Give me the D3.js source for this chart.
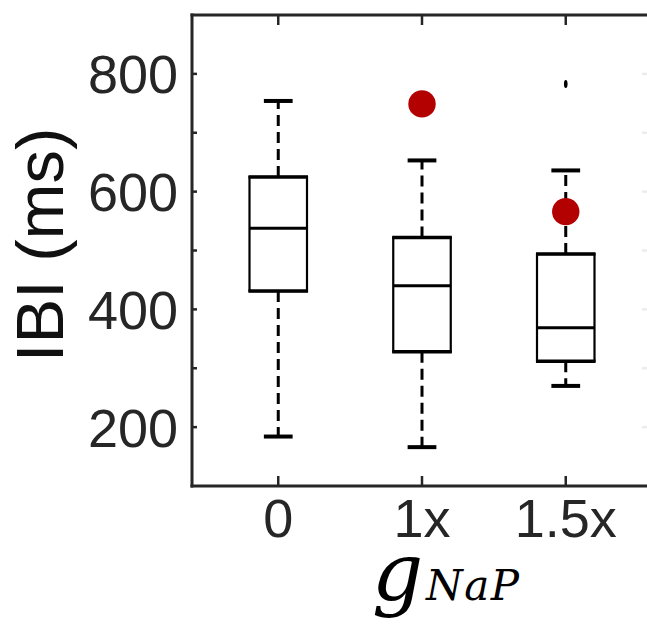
<!DOCTYPE html>
<html>
<head>
<meta charset="utf-8">
<script src="https://cdn.jsdelivr.net/npm/d3@7"></script>
<style>
  html, body { margin: 0; padding: 0; background: #fff; }
  svg { display: block; }
</style>
</head>
<body>
<svg id="chart" width="647" height="631"></svg>
<script>
// Inter-burst interval for each g_NaP level
const categories = ["0", "1x", "1.5x"];
const whiskerLow = [184, 166, 270];
const q1 = [431, 328, 312];
const medians = [538, 440, 369];
const q3 = [625, 522, 494];
const whiskerHigh = [754, 653, 636];
// outlier points (category index, value)
const outliers = [[2, 783]];
// highlighted values (red markers), null where absent
const highlights = [null, 749, 566];
const yTicks = [100, 200, 300, 400, 500, 600, 700, 800, 900];
const yTickLabels = [200, 400, 600, 800];

const svg = d3.select("#chart");
const axisColor = "#262626";

const x = d3.scaleLinear().domain([0.4, 3.6]).range([192, 652]);
const y = d3.scaleLinear().domain([100, 900]).range([486, 15]);

const boxW = 0.4, capW = 0.2;

// frame: left, top, bottom axis lines
const frame = svg.append("g").attr("stroke", axisColor).attr("stroke-width", 3).attr("fill", "none");
frame.append("line").attr("x1", x(0.4)).attr("x2", x(0.4)).attr("y1", y(900) - 1.5).attr("y2", y(100) + 1.5);
frame.append("line").attr("x1", x(0.4) - 1.5).attr("x2", x(3.6)).attr("y1", y(900)).attr("y2", y(900));
frame.append("line").attr("x1", x(0.4) - 1.5).attr("x2", x(3.6)).attr("y1", y(100)).attr("y2", y(100));

// y ticks (inward)
svg.append("g").selectAll("line").data(yTicks.slice(1, -1)).join("line")
  .attr("x1", x(0.4)).attr("x2", x(0.4) + 5)
  .attr("y1", d => y(d)).attr("y2", d => y(d))
  .attr("stroke", axisColor).attr("stroke-width", 2.5);

// faint right-side ticks
svg.append("g").selectAll("line").data(yTicks.slice(1, -1)).join("line")
  .attr("x1", 642).attr("x2", 647)
  .attr("y1", d => y(d)).attr("y2", d => y(d))
  .attr("stroke", "#ececec").attr("stroke-width", 2.5);

// x ticks (top and bottom, inward)
const xt = svg.append("g").attr("stroke", axisColor).attr("stroke-width", 2.5);
categories.forEach((c, i) => {
  xt.append("line").attr("x1", x(i + 1)).attr("x2", x(i + 1)).attr("y1", y(900)).attr("y2", y(900) + 10);
  xt.append("line").attr("x1", x(i + 1)).attr("x2", x(i + 1)).attr("y1", y(100)).attr("y2", y(100) - 10);
});

// tick labels
const labelFont = "'Liberation Sans', Arial, sans-serif";
svg.append("g").selectAll("text").data(yTickLabels).join("text")
  .attr("x", 178).attr("y", d => y(d))
  .attr("dy", "0.36em")
  .attr("text-anchor", "end")
  .attr("font-family", labelFont).attr("font-size", 54)
  .attr("fill", axisColor)
  .text(d => d);

svg.append("g").selectAll("text").data(categories).join("text")
  .attr("x", (d, i) => x(i + 1)).attr("y", 537)
  .attr("text-anchor", "middle")
  .attr("font-family", labelFont).attr("font-size", 54)
  .attr("fill", axisColor)
  .text(d => d);

// y axis title
svg.append("text")
  .attr("transform", "translate(63,245) rotate(-90)")
  .attr("text-anchor", "middle")
  .attr("font-family", labelFont).attr("font-size", 67)
  .attr("fill", "#111")
  .text("IBI (ms)");

// x axis title: g with subscript NaP
const serif = "'DejaVu Serif', 'Liberation Serif', serif";
svg.append("text")
  .attr("x", 372).attr("y", 600)
  .attr("font-family", serif).attr("font-style", "italic")
  .attr("font-size", 80).attr("fill", "#000")
  .text("g");
svg.append("text")
  .attr("x", 426).attr("y", 600)
  .attr("font-family", serif).attr("font-style", "italic")
  .attr("font-size", 42).attr("letter-spacing", 1.5).attr("fill", "#000")
  .text("NaP");

// boxes
const boxes = svg.append("g").attr("stroke", "#000").attr("fill", "none");
categories.forEach((c, i) => {
  const cx = i + 1;
  // whiskers (dashed)
  boxes.append("line").attr("x1", x(cx)).attr("x2", x(cx))
    .attr("y1", y(q3[i])).attr("y2", y(whiskerHigh[i]))
    .attr("stroke-width", 3).attr("stroke-dasharray", "11,6");
  boxes.append("line").attr("x1", x(cx)).attr("x2", x(cx))
    .attr("y1", y(q1[i])).attr("y2", y(whiskerLow[i]))
    .attr("stroke-width", 3).attr("stroke-dasharray", "11,6");
  // caps
  [whiskerHigh[i], whiskerLow[i]].forEach(v => {
    boxes.append("line").attr("x1", x(cx - capW / 2)).attr("x2", x(cx + capW / 2))
      .attr("y1", y(v)).attr("y2", y(v)).attr("stroke-width", 4);
  });
  // box
  boxes.append("rect")
    .attr("x", x(cx - boxW / 2)).attr("y", y(q3[i]))
    .attr("width", x(cx + boxW / 2) - x(cx - boxW / 2))
    .attr("height", y(q1[i]) - y(q3[i]))
    .attr("fill", "#fff").attr("stroke-width", 2.2);
  [q3[i], q1[i]].forEach(v => {
    boxes.append("line").attr("x1", x(cx - boxW / 2) - 1).attr("x2", x(cx + boxW / 2) + 1)
      .attr("y1", y(v)).attr("y2", y(v)).attr("stroke-width", 3.5);
  });
  // median
  boxes.append("line").attr("x1", x(cx - boxW / 2)).attr("x2", x(cx + boxW / 2))
    .attr("y1", y(medians[i])).attr("y2", y(medians[i])).attr("stroke-width", 3);
});

// outliers
svg.append("g").selectAll("ellipse").data(outliers).join("ellipse")
  .attr("cx", d => x(d[0] + 1)).attr("cy", d => y(d[1]))
  .attr("rx", 1.8).attr("ry", 4).attr("fill", "#000");

// red markers
svg.append("g").selectAll("circle")
  .data(highlights.map((v, i) => [i, v]).filter(d => d[1] !== null)).join("circle")
  .attr("cx", d => x(d[0] + 1)).attr("cy", d => y(d[1]))
  .attr("r", 13.7).attr("fill", "#b30000");
</script>
</body>
</html>
